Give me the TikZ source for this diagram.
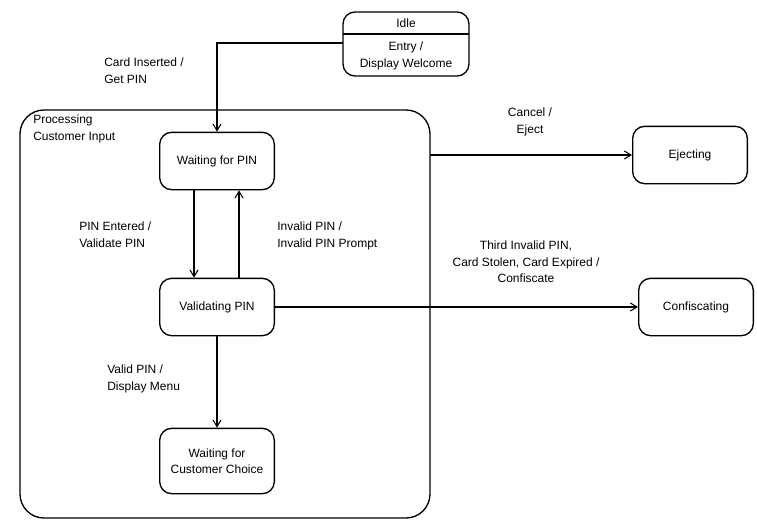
\documentclass[tikz,border=0pt]{standalone}
\usepackage{fontspec}
\setmainfont{Liberation Sans}
\usetikzlibrary{arrows.meta}
\begin{document}
\begin{tikzpicture}[x=0.75pt,y=-0.75pt,
  every node/.style={font=\fontsize{9}{12.2}\selectfont},
  statebox/.style={draw,line width=1pt,rounded corners=9pt,minimum width=86pt,minimum height=43pt,align=center,inner sep=1pt},
  lbl/.style={align=left,anchor=north west,inner sep=0pt},
  clbl/.style={align=center,anchor=north,inner sep=0pt},
  trans/.style={draw,line width=0.8pt,-{Straight Barb[length=5pt,width=6pt]}}]
\useasboundingbox (0,0) rectangle (757,528);
% composite state
\draw[line width=1pt,rounded corners=18pt] (20,110) rectangle (430,518);
\node[lbl] (proclbl) at (33,115) {Processing\\Customer Input};
% Idle
\draw[line width=1pt,rounded corners=9pt] (343,12) rectangle (469,76);
\coordinate (idleL) at (343,43);
\draw[line width=1pt] (343,34) -- (469,34);
\node (idlename) at (406,23) {Idle};
\node[align=center] (idleentry) at (406,56) {Entry /\\Display Welcome};
% states
\node[statebox] (wpin) at (217,161) {Waiting for PIN};
\node[statebox] (vpin) at (217,307) {Validating PIN};
\node[statebox,minimum height=49pt] (wcc) at (217,461) {Waiting for\\Customer Choice};
\node[statebox] (ej) at (690,155) {Ejecting};
\node[statebox] (conf) at (696,307) {Confiscating};
\coordinate (procR) at (430,155);
% transitions
\draw[trans] (idleL) -| (wpin.north);
\node[lbl] (l1) at (104,58) {Card Inserted /\\Get PIN};
\draw[trans] (wpin.south -| 194,0) -- (vpin.north -| 194,0);
\node[lbl] (l2) at (79,222) {PIN Entered /\\Validate PIN};
\draw[trans] (vpin.north -| 239,0) -- (wpin.south -| 239,0);
\node[lbl] (l3) at (277,222) {Invalid PIN /\\Invalid PIN Prompt};
\draw[trans] (vpin.south) -- (wcc.north);
\node[lbl] (l4) at (107,365) {Valid PIN /\\Display Menu};
\draw[trans] (procR) -- (ej.west);
\node[clbl] (l5) at (530,108) {Cancel /\\Eject};
\draw[trans] (vpin.east) -- (conf.west);
\node[clbl] (l6) at (526,241) {Third Invalid PIN,\\Card Stolen, Card Expired /\\Confiscate};
\end{tikzpicture}
\end{document}
